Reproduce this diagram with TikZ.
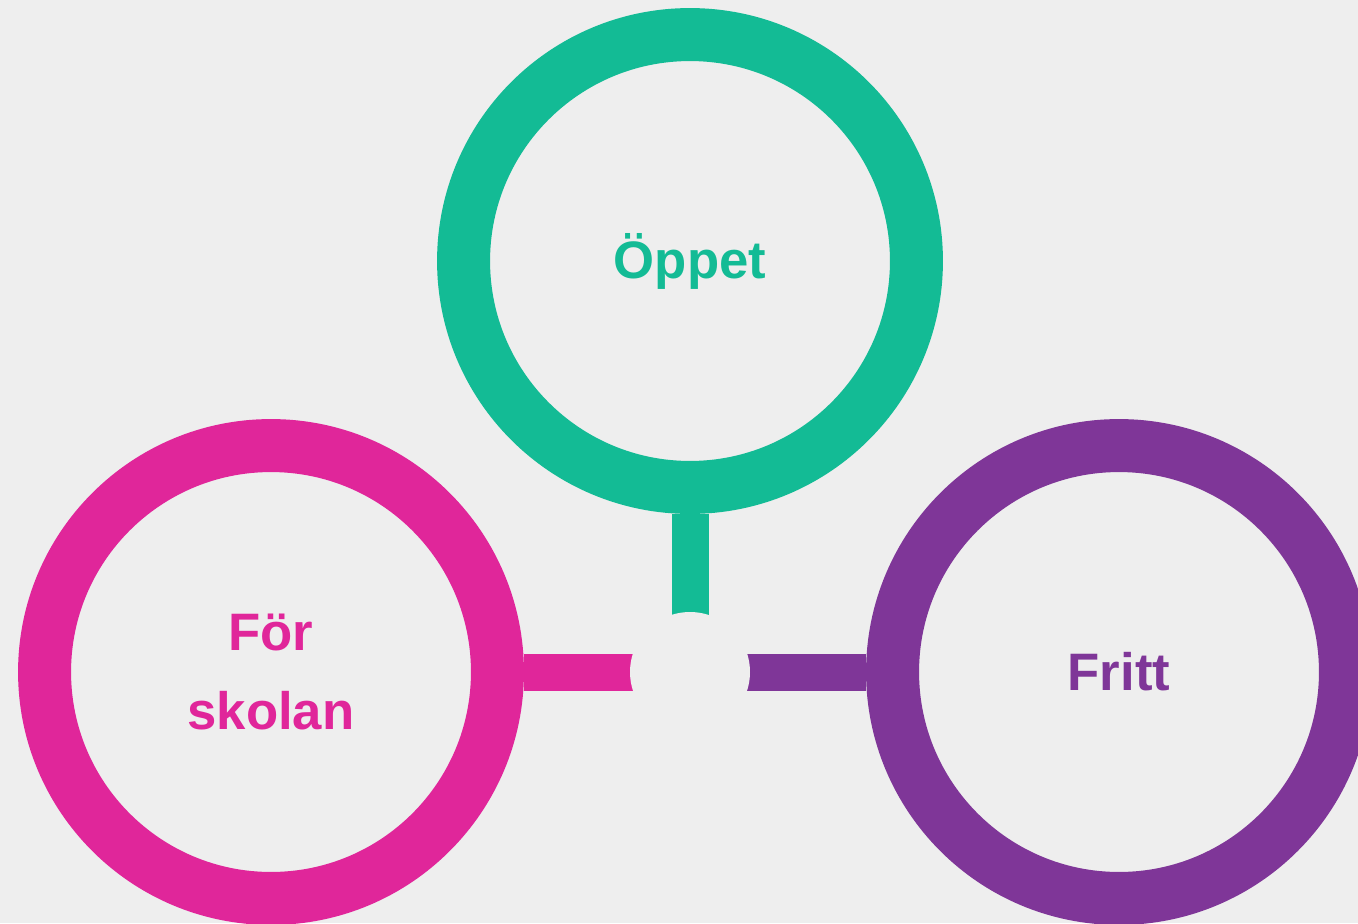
\documentclass[tikz,border=0pt]{standalone}
\usepackage{fontspec}
\setmainfont{Liberation Sans}
\definecolor{bg}{RGB}{238,238,238}
\definecolor{oppetgreen}{RGB}{19,187,149}
\definecolor{skolanpink}{RGB}{224,38,154}
\definecolor{frittpurple}{RGB}{127,54,152}
\begin{document}
\begin{tikzpicture}[x=0.02cm,y=-0.02cm,
	ring/.style={circle,line width=1.06cm,minimum size=9.06cm,inner sep=0pt,
		font=\fontsize{30}{45.5}\selectfont\bfseries,align=center},
	bar/.style={line width=0.74cm},
	hubdisc/.style={circle,fill=bg,minimum size=2.4cm,inner sep=0pt}]
		\clip (0,0) rectangle (1358,923);
		\fill[bg] (0,0) rectangle (1358,923);
		\node[ring,draw=oppetgreen,text=oppetgreen] (oppet) at (690,261) {Öppet};
		\node[ring,draw=skolanpink,text=skolanpink] (skolan) at (271,672) {För\\skolan};
		\node[ring,draw=frittpurple,text=frittpurple] (fritt) at (1119,672) {Fritt};
		\coordinate (hub) at (690,672);
			\draw[bar,oppetgreen] (oppet.south) -- (hub);
			\draw[bar,skolanpink] (skolan.east) -- (hub);
			\draw[bar,frittpurple] (fritt.west) -- (hub);
		\node[hubdisc] (center) at (hub) {};
	\end{tikzpicture}
\end{document}
